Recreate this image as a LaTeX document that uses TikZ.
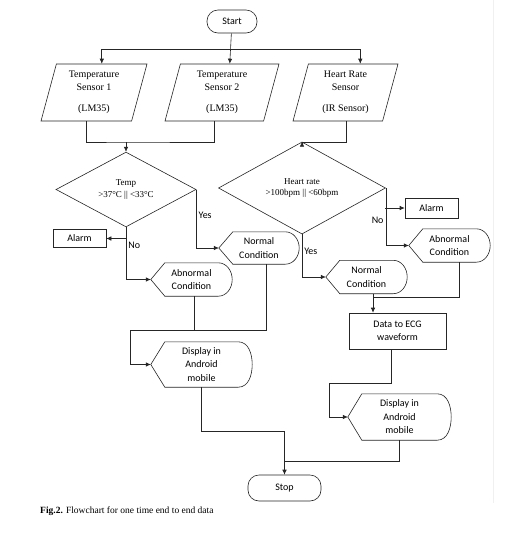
\documentclass[tikz,border=0pt]{standalone}
\usepackage{fontspec}
\setmainfont{Liberation Serif}
\newfontfamily\calibri{Carlito}
\usetikzlibrary{shapes.geometric,arrows.meta}

\begin{document}
\begin{tikzpicture}[x=1pt, y=-1pt,
  line/.style={draw=black!85, line width=0.6pt},
  arrow/.style={line, -{Latex[length=5pt,width=4.5pt]}},
  term/.style={line, rectangle, rounded corners=11pt, font=\calibri\fontsize{10}{12}\selectfont},
  sensor/.style={line, trapezium, trapezium left angle=71, trapezium right angle=109,
    trapezium stretches body, minimum height=57, inner sep=1pt, align=center,
    font=\fontsize{10}{13}\selectfont},
  decision/.style={line, diamond, inner sep=0pt, align=center, font=\fontsize{9}{11.5}\selectfont},
  plainbox/.style={line, rectangle, align=center, font=\calibri\fontsize{10}{13}\selectfont},
  dispbox/.style={rectangle, inner sep=0pt, align=center, font=\calibri\fontsize{10}{13.5}\selectfont,
    append after command={\pgfextra{\draw[line] (\tikzlastnode.west)
      -- ([xshift=14pt]\tikzlastnode.north west) -- ([xshift=-14pt]\tikzlastnode.north east)
      to[out=0,in=90] (\tikzlastnode.east) to[out=-90,in=0] ([xshift=-14pt]\tikzlastnode.south east)
      -- ([xshift=14pt]\tikzlastnode.south west) -- cycle;}}},
  lbl/.style={font=\calibri\fontsize{10}{12}\selectfont, inner sep=2pt}
]
\useasboundingbox[fill=white] (0,0) rectangle (531,539);
\draw[gray!12] (493,0) -- (493,503);

% top row
\node[term, minimum width=50, minimum height=23] (start) at (232,21.5) {Start};
\node[sensor, minimum width=106] (t1) at (94,92.5) {Temperature\\Sensor 1\\[8pt](LM35)};
\node[sensor, minimum width=114] (t2) at (222,92.5) {Temperature\\Sensor 2\\[8pt](LM35)};
\node[sensor, minimum width=105] (hr) at (345.5,92.5) {Heart Rate\\Sensor\\[8pt](IR Sensor)};

% decisions
\node[decision, minimum width=140, minimum height=63] (dt) at (126,189.5) {Temp\\>37°C || <33°C};
\node[decision, minimum width=167, minimum height=60] (dh) at (302,188) {Heart rate\\>100bpm || <60bpm};

% left branch
\node[plainbox, minimum width=53, minimum height=18] (al1) at (79.5,238.5) {Alarm};
\node[dispbox, minimum width=80, minimum height=32] (n1) at (259,248) {Normal\\Condition};
\node[dispbox, minimum width=81, minimum height=33] (ab1) at (191.5,279.5) {Abnormal\\Condition};
\node[dispbox, minimum width=101, minimum height=45] (dp1) at (201.5,364.5) {Display in\\Android\\mobile};

% right branch
\node[plainbox, minimum width=53, minimum height=20] (al2) at (431.5,208) {Alarm};
\node[dispbox, minimum width=81, minimum height=33] (ab2) at (449.5,245.5) {Abnormal\\Condition};
\node[dispbox, minimum width=81, minimum height=33] (n2) at (366.5,277) {Normal\\Condition};
\node[plainbox, minimum width=97, minimum height=36] (ecg) at (397.5,331) {Data to ECG\\waveform};
\node[dispbox, minimum width=103, minimum height=46] (dp2) at (399.5,417) {Display in\\Android\\mobile};

\node[term, minimum width=73, minimum height=26] (stop) at (284.5,488) {Stop};
\node[anchor=west, inner sep=0pt, font=\fontsize{9.5}{11}\selectfont] (cap) at (40,511)
  {\textbf{Fig.2.} Flowchart for one time end to end data};

% junctions
\coordinate (j0) at (232,49);
\coordinate (j1) at (126,142);
\coordinate (j2) at (302,142);
\coordinate (j3) at (126,238.5);
\coordinate (j4) at (385,208);
\coordinate (j5) at (130,330);
\coordinate (j6) at (284.5,431);
\coordinate (j7) at (373,297);
\coordinate (j8) at (329,383);
\coordinate (j9) at (284.5,461);

% start to sensors
\draw[arrow] (start) -- (t2.top side);
\draw[arrow] (j0) -| (t1.top side);
\draw[arrow] (j0) -| ([xshift=7pt]hr.top side);

% sensors to decisions
\draw[line] (t1.bottom side) |- (j1) -| (t2.bottom side);
\draw[arrow] (j1) -- (dt.north);
\draw[line] ([xshift=9pt]hr.bottom side) |- (j2);
\draw[arrow] (j2) -- (dh.north);

% temperature decision
\draw[arrow] (dt.east) |- (n1.west) node[lbl, right, pos=0.22] (y1) {Yes};
\draw[arrow] (dt.south) |- (ab1.west) node[lbl, right, pos=0.17] (no1) {No};
\draw[arrow] (j3) -- (al1.east);
\draw[line] ([xshift=7pt]n1.south) |- (j5);
\draw[line] ([xshift=2.5pt]ab1.south) -- ([xshift=2.5pt]ab1.south |- j5);
\draw[arrow] (j5) |- (dp1.west);
\draw[line] (dp1.south) |- (j6);
\draw[arrow] (j6) -- (stop.north);

% heart rate decision
\draw[arrow] (dh.east) |- (ab2.west) node[lbl, left, pos=0.28] (no2) {No};
\draw[arrow] (j4) -- (al2.west);
\draw[arrow] (dh.south) |- (n2.west) node[lbl, right, pos=0.2] (y2) {Yes};
\draw[line] ([xshift=10pt]ab2.south) |- (j7);
\draw[arrow] ([xshift=6.5pt]n2.south) -- ([xshift=6.5pt]n2.south |- ecg.north);
\draw[line] ([xshift=-6.5pt]ecg.south) |- (j8);
\draw[arrow] (j8) |- (dp2.west);
\draw[line] (dp2.south) |- (j9);
\end{tikzpicture}
\end{document}
